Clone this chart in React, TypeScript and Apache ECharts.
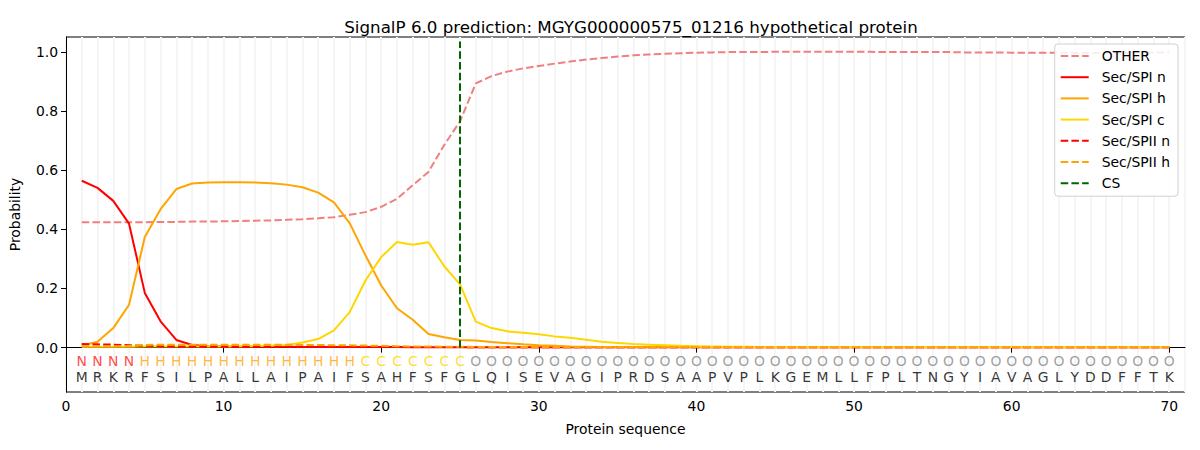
import React, { useEffect, useRef } from "react";
import * as echarts from "echarts";

const titleText = "SignalP 6.0 prediction: MGYG000000575_01216 hypothetical protein";
const sequence = "MRKRFSILPALLAIPAIFSAHFSFGLQISEVAGIPRDSAAPVPLKGEMLLFPLTNGYIAVAGLYDDFFTK".split("");
const regionLabels = "NNNNHHHHHHHHHHHHHHCCCCCCCOOOOOOOOOOOOOOOOOOOOOOOOOOOOOOOOOOOOOOOOOOOOO".split("");
const xTicks = [0, 10, 20, 30, 40, 50, 60, 70];
const yTicks = [0, 0.2, 0.4, 0.6, 0.8, 1.0];
const csPosition = 25;

const other = [
  0.424, 0.424, 0.424, 0.424, 0.424, 0.425, 0.425, 0.426, 0.426, 0.427,
  0.428, 0.429, 0.430, 0.432, 0.434, 0.437, 0.441, 0.449, 0.458, 0.476,
  0.503, 0.549, 0.594, 0.685, 0.765, 0.893, 0.918, 0.933, 0.944, 0.952,
  0.960, 0.967, 0.974, 0.979, 0.984, 0.988, 0.991, 0.993, 0.995, 0.997,
  0.998, 0.999, 0.999, 0.999, 1.0, 1.0, 1.0, 1.0, 1.0, 1.0,
  1.0, 0.999, 0.999, 0.999, 0.999, 0.999, 0.998, 0.998, 0.998, 0.997,
  0.997, 0.997, 0.997, 0.996, 0.996, 0.996, 0.996, 0.997, 0.997, 0.998,
];
const spiN = [
  0.564, 0.540, 0.496, 0.419, 0.185, 0.089, 0.026, 0.009, 0.005, 0.004,
  0.003, 0.003, 0.003, 0.003, 0.002, 0.002, 0.002, 0.002, 0.002, 0.002,
  0.002, 0.001, 0.001, 0.001, 0.001, 0.001, 0.001, 0.001, 0.001, 0.001,
  0.001, 0.001, 0.001, 0.001, 0.001, 0.001, 0.001, 0.001, 0.001, 0.001,
  0.001, 0.001, 0.001, 0.001, 0.001, 0.001, 0.001, 0.001, 0.001, 0.001,
  0.001, 0.001, 0.001, 0.001, 0.001, 0.001, 0.001, 0.001, 0.001, 0.001,
  0.001, 0.001, 0.001, 0.001, 0.001, 0.001, 0.001, 0.001, 0.001, 0.001,
];
const spiH = [
  0.007, 0.020, 0.066, 0.145, 0.374, 0.468, 0.536, 0.555, 0.558, 0.559,
  0.559, 0.558, 0.556, 0.551, 0.542, 0.524, 0.491, 0.421, 0.312, 0.210,
  0.133, 0.094, 0.046, 0.035, 0.026, 0.024, 0.019, 0.015, 0.011, 0.008,
  0.006, 0.004, 0.003, 0.002, 0.002, 0.002, 0.002, 0.002, 0.002, 0.002,
  0.002, 0.002, 0.002, 0.002, 0.002, 0.002, 0.002, 0.002, 0.002, 0.002,
  0.002, 0.002, 0.002, 0.002, 0.002, 0.002, 0.002, 0.002, 0.002, 0.002,
  0.002, 0.002, 0.002, 0.002, 0.002, 0.002, 0.002, 0.002, 0.002, 0.002,
];
const spiC = [
  0.003, 0.003, 0.003, 0.003, 0.004, 0.004, 0.004, 0.004, 0.004, 0.004,
  0.005, 0.005, 0.006, 0.009, 0.017, 0.029, 0.058, 0.120, 0.227, 0.306,
  0.357, 0.348, 0.356, 0.275, 0.214, 0.088, 0.066, 0.055, 0.050, 0.045,
  0.038, 0.033, 0.027, 0.020, 0.016, 0.012, 0.010, 0.008, 0.006, 0.005,
  0.004, 0.003, 0.003, 0.002, 0.002, 0.002, 0.002, 0.002, 0.002, 0.002,
  0.002, 0.002, 0.002, 0.002, 0.002, 0.002, 0.002, 0.002, 0.002, 0.002,
  0.002, 0.002, 0.002, 0.002, 0.002, 0.002, 0.002, 0.002, 0.002, 0.002,
];
const spiiN = [
  0.012, 0.011, 0.010, 0.008, 0.006, 0.005, 0.004, 0.003, 0.003, 0.003,
  0.002, 0.002, 0.002, 0.002, 0.002, 0.002, 0.002, 0.002, 0.002, 0.002,
  0.002, 0.002, 0.002, 0.002, 0.002, 0.001, 0.001, 0.001, 0.001, 0.001,
  0.001, 0.001, 0.001, 0.001, 0.001, 0.001, 0.001, 0.001, 0.001, 0.001,
  0.001, 0.001, 0.001, 0.001, 0.001, 0.001, 0.001, 0.001, 0.001, 0.001,
  0.001, 0.001, 0.001, 0.001, 0.001, 0.001, 0.001, 0.001, 0.001, 0.001,
  0.001, 0.001, 0.001, 0.001, 0.001, 0.001, 0.001, 0.001, 0.001, 0.001,
];
const spiiH = [
  0.003, 0.004, 0.005, 0.006, 0.009, 0.010, 0.010, 0.010, 0.010, 0.010,
  0.010, 0.010, 0.010, 0.010, 0.009, 0.009, 0.008, 0.008, 0.007, 0.006,
  0.005, 0.004, 0.004, 0.003, 0.003, 0.002, 0.002, 0.002, 0.002, 0.002,
  0.002, 0.002, 0.002, 0.002, 0.002, 0.002, 0.002, 0.002, 0.002, 0.002,
  0.002, 0.002, 0.002, 0.002, 0.002, 0.002, 0.002, 0.002, 0.002, 0.002,
  0.002, 0.002, 0.002, 0.002, 0.002, 0.002, 0.002, 0.002, 0.002, 0.002,
  0.002, 0.002, 0.002, 0.002, 0.002, 0.002, 0.002, 0.002, 0.002, 0.002,
];

const regionColors: Record<string, string> = {
  N: "#ff2020",
  H: "#ffa510",
  C: "#ffd400",
  O: "#888888",
};

const FONT = "DejaVu Sans";
const DASH = [7.5, 3.2];

function pairs(vals: number[]) {
  return vals.map((v, i) => [i + 1, v]);
}

export default function App() {
  const ref = useRef<HTMLDivElement>(null);
  useEffect(() => {
    document.body.style.margin = "0";
    const chart = echarts.init(ref.current!, null, { renderer: "svg" });
    const lineSeries = (name: string, vals: number[], color: string, dashed: boolean, z: number) => ({
      name,
      type: "line",
      data: pairs(vals),
      symbol: "none",
      showSymbol: false,
      z,
      lineStyle: { color, width: 2, type: dashed ? DASH : "solid" },
      itemStyle: { color },
    });
    chart.setOption({
      animation: false,
      textStyle: { fontFamily: FONT },
      title: {
        text: titleText,
        left: 626,
        top: 13,
        textAlign: "center",
        textStyle: { fontFamily: FONT, fontSize: 16.7, fontWeight: "normal", color: "#000" },
      },
      grid: {
        left: 66,
        right: 15,
        top: 37,
        bottom: 58,
        show: true,
        borderColor: "#000",
        borderWidth: 1,
        backgroundColor: "transparent",
      },
      legend: {
        orient: "vertical",
        right: 22,
        top: 44,
        padding: [5, 8, 6, 5],
        itemWidth: 28,
        itemHeight: 14,
        itemGap: 7.2,
        itemStyle: { opacity: 0 },
        backgroundColor: "rgba(255,255,255,0.85)",
        borderColor: "#d0d0d0",
        borderWidth: 1,
        borderRadius: 3,
        textStyle: { fontFamily: FONT, fontSize: 13.9, color: "#000", padding: [0, 0, 0, 8] },
        data: ["OTHER", "Sec/SPI n", "Sec/SPI h", "Sec/SPI c", "Sec/SPII n", "Sec/SPII h", "CS"],
      },
      xAxis: [
        {
          type: "value",
          min: 0,
          max: 71,
          name: "Protein sequence",
          nameLocation: "middle",
          nameGap: 30,
          nameTextStyle: { fontFamily: FONT, fontSize: 13.9, color: "#000" },
          axisLine: { show: true, lineStyle: { color: "#000", width: 1 } },
          axisTick: { show: true, length: 5, lineStyle: { color: "#000" }, customValues: xTicks },
          axisLabel: { fontFamily: FONT, fontSize: 13.9, color: "#000", margin: 7, customValues: xTicks },
          splitLine: { show: false },
        },
        {
          type: "value",
          min: 0,
          max: 71,
          interval: 1,
          position: "bottom",
          axisLine: { show: false },
          axisTick: { show: false },
          axisLabel: { show: false },
          splitLine: { show: true, lineStyle: { color: "#f5f5f5", width: 2 } },
        },
      ],
      yAxis: {
        type: "value",
        min: -0.15,
        max: 1.05,
        name: "Probability",
        nameLocation: "middle",
        nameGap: 44,
        nameTextStyle: { fontFamily: FONT, fontSize: 13.9, color: "#000" },
        axisLine: { show: true, lineStyle: { color: "#000", width: 1 } },
        axisTick: { show: true, length: 5, lineStyle: { color: "#000" }, customValues: yTicks },
        axisLabel: {
          fontFamily: FONT,
          fontSize: 13.9,
          color: "#000",
          margin: 8,
          customValues: yTicks,
          formatter: (v: number) => v.toFixed(1),
        },
        splitLine: { show: false },
      },
      series: [
        lineSeries("OTHER", other, "#f08080", true, 2),
        lineSeries("Sec/SPI n", spiN, "#ff0000", false, 3),
        lineSeries("Sec/SPI h", spiH, "#ffa500", false, 4),
        lineSeries("Sec/SPI c", spiC, "#ffd700", false, 5),
        lineSeries("Sec/SPII n", spiiN, "#ff0000", true, 6),
        lineSeries("Sec/SPII h", spiiH, "#ffa500", true, 7),
        {
          name: "CS",
          type: "line",
          data: [
            [csPosition, 0],
            [csPosition, 1.035],
          ],
          symbol: "none",
          showSymbol: false,
          z: 8,
          lineStyle: { color: "#006400", width: 2, type: DASH },
          itemStyle: { color: "#006400" },
        },
        {
          name: "regions",
          type: "scatter",
          symbolSize: 0,
          z: 9,
          silent: true,
          data: regionLabels.map((r, i) => ({
            value: [i + 1, -0.046],
            label: { color: regionColors[r] },
          })),
          label: {
            show: true,
            position: "inside",
            fontFamily: FONT,
            fontSize: 13.9,
            formatter: (p: any) => regionLabels[p.dataIndex],
          },
        },
        {
          name: "sequence",
          type: "scatter",
          symbolSize: 0,
          z: 9,
          silent: true,
          data: sequence.map((s, i) => [i + 1, -0.1]),
          label: {
            show: true,
            position: "inside",
            fontFamily: FONT,
            fontSize: 13.9,
            color: "#000",
            formatter: (p: any) => sequence[p.dataIndex],
          },
        },
      ],
    });
    return () => chart.dispose();
  }, []);
  return (
    <div
      ref={ref}
      style={{ position: "absolute", left: 0, top: 0, width: "1200px", height: "450px", background: "#fff" }}
    />
  );
}
